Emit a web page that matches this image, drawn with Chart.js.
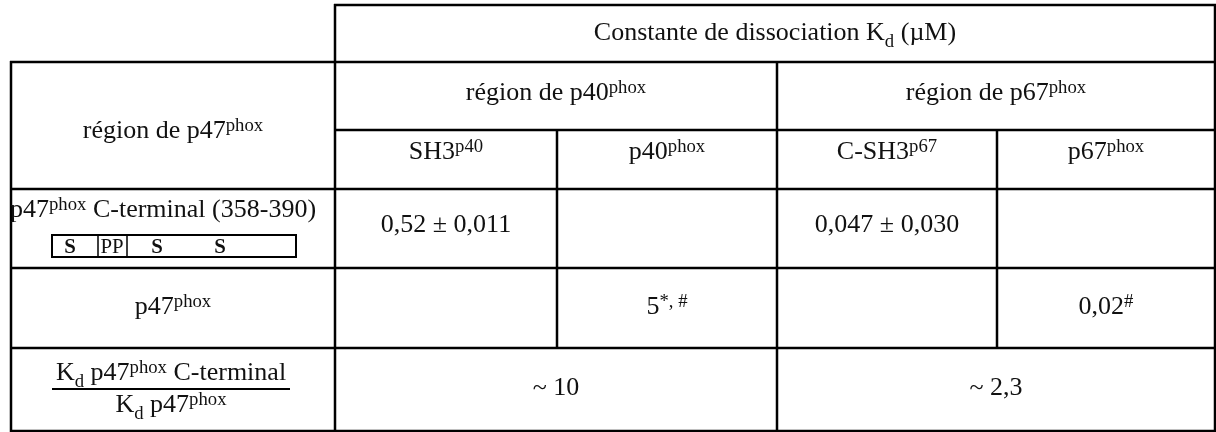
<!doctype html>
<html>

<head>
    <title>Constante de dissociation</title>
    <script src="https://cdn.jsdelivr.net/npm/chart.js"></script>
    <style>
        body { margin: 0; background: #fff; }
    </style>
</head>

<body>

    <canvas id="tableau" width="1216" height="432"></canvas>

    <script>
        // textes du tableau (^{..} = exposant, _{..} = indice)
        var enTete = 'Constante de dissociation K_{d} (µM)';
        var regions = ['région de p40^{phox}', 'région de p67^{phox}'];
        var colonnes = ['SH3^{p40}', 'p40^{phox}', 'C-SH3^{p67}', 'p67^{phox}'];
        var lignes = ['région de p47^{phox}', 'p47^{phox} C-terminal (358-390)', 'p47^{phox}'];
        var kdCterminal = ['0,52 ± 0,011', '', '0,047 ± 0,030', ''];
        var kdEntier = ['', '5^{*, #}', '', '0,02^{#}'];
        var rapports = ['~ 10', '~ 2,3'];
        var fraction = ['K_{d} p47^{phox} C-terminal', 'K_{d} p47^{phox}'];
        var domaines = ['S', 'PP', 'S', 'S'];

        // grille (pixels)
        var bordsX = [11, 335, 557, 777, 997, 1215];
        var bordsY = [5, 62, 130, 189, 268, 348, 431];
        var horizontales = [[0, 1, 5], [1, 0, 5], [2, 1, 5], [3, 0, 5], [4, 0, 5], [5, 0, 5], [6, 0, 5]];
        var verticales = [[0, 1, 6], [1, 0, 6], [2, 2, 5], [3, 1, 6], [4, 2, 5], [5, 0, 6]];
        var lignesBase = [40, 100, 138, 159, 232, 314, 395];
        var boiteX = [52, 98, 127, 296];
        var boiteY = [235, 257];
        var domainesX = [70, 112, 157, 220];
        var fractionX = [52, 290];
        var fractionY = [380, 389, 412];

        var POLICE = '"Liberation Serif", "Times New Roman", serif';
        var ETIRE = 1.04;

        function segment(x1, y1, x2, y2, largeur) {
            return {
                data: [{ x: x1, y: y1 }, { x: x2, y: y2 }],
                showLine: true,
                borderColor: '#000',
                borderWidth: largeur,
                pointRadius: 0,
                clip: false
            };
        }

        var datasets = [];
        horizontales.forEach(function (h) {
            datasets.push(segment(bordsX[h[1]] - 1, bordsY[h[0]], bordsX[h[2]] + 1, bordsY[h[0]], 2.5));
        });
        verticales.forEach(function (v) {
            datasets.push(segment(bordsX[v[0]], bordsY[v[1]] - 1, bordsX[v[0]], bordsY[v[2]] + 1, 2.5));
        });
        // boite S PP S S
        datasets.push(segment(boiteX[0], boiteY[0], boiteX[3], boiteY[0], 2));
        datasets.push(segment(boiteX[0], boiteY[1], boiteX[3], boiteY[1], 2));
        boiteX.forEach(function (x, i) {
            datasets.push(segment(x, boiteY[0] - 1, x, boiteY[1] + 1, i == 0 || i == 3 ? 2 : 1.5));
        });
        // barre de fraction
        datasets.push(segment(fractionX[0], fractionY[1], fractionX[1], fractionY[1], 2));

        function decoupe(texte) {
            var morceaux = [];
            var re = /\^\{([^}]*)\}|_\{([^}]*)\}|([^\^_]+)/g;
            var m;
            while ((m = re.exec(texte)) !== null) {
                if (m[1] != null) morceaux.push({ t: m[1], mode: 'sup' });
                else if (m[2] != null) morceaux.push({ t: m[2], mode: 'sub' });
                else morceaux.push({ t: m[3], mode: 'n' });
            }
            return morceaux;
        }

        function police(mode, taille, gras) {
            var t = mode == 'sup' ? 18 : mode == 'sub' ? 18 : taille;
            return (gras ? 'bold ' : '') + t + 'px ' + POLICE;
        }

        function ecrire(ctx, texte, x, y, align, taille, gras) {
            taille = taille || 25;
            var morceaux = decoupe(texte);
            var largeur = 0;
            morceaux.forEach(function (p) {
                ctx.font = police(p.mode, taille, gras);
                p.w = ctx.measureText(p.t).width;
                largeur += p.w;
            });
            var x0 = align == 'left' ? x : x - largeur * ETIRE / 2;
            ctx.save();
            ctx.translate(x0, 0);
            ctx.scale(ETIRE, 1);
            ctx.fillStyle = '#111';
            ctx.textAlign = 'left';
            ctx.textBaseline = 'alphabetic';
            var cx = 0;
            morceaux.forEach(function (p) {
                ctx.font = police(p.mode, taille, gras);
                var dy = p.mode == 'sup' ? -7 : p.mode == 'sub' ? 7 : 0;
                ctx.fillText(p.t, cx, y + dy);
                cx += p.w;
            });
            ctx.restore();
        }

        var textes = {
            id: 'textes',
            afterDatasetsDraw: function (chart) {
                var ctx = chart.ctx;
                var sx = chart.scales.x, sy = chart.scales.y;
                function milieu(c0, c1) {
                    return sx.getPixelForValue((bordsX[c0] + bordsX[c1]) / 2);
                }
                function base(i) { return sy.getPixelForValue(lignesBase[i]); }

                ecrire(ctx, enTete, milieu(1, 5), base(0), 'center');
                regions.forEach(function (r, i) {
                    ecrire(ctx, r, milieu(1 + 2 * i, 3 + 2 * i), base(1), 'center');
                });
                ecrire(ctx, lignes[0], milieu(0, 1), base(2), 'center');
                colonnes.forEach(function (c, i) {
                    ecrire(ctx, c, milieu(i + 1, i + 2), base(3), 'center');
                });
                ecrire(ctx, lignes[1], sx.getPixelForValue(bordsX[0] - 1), sy.getPixelForValue(217), 'left');
                kdCterminal.forEach(function (v, i) {
                    if (v) ecrire(ctx, v, milieu(i + 1, i + 2), base(4), 'center');
                });
                domaines.forEach(function (d, i) {
                    ecrire(ctx, d, sx.getPixelForValue(domainesX[i]), sy.getPixelForValue(253), 'center', 20, d == 'S');
                });
                ecrire(ctx, lignes[2], milieu(0, 1), base(5), 'center');
                kdEntier.forEach(function (v, i) {
                    if (v) ecrire(ctx, v, milieu(i + 1, i + 2), base(5), 'center');
                });
                var fx = sx.getPixelForValue((fractionX[0] + fractionX[1]) / 2);
                ecrire(ctx, fraction[0], fx, sy.getPixelForValue(fractionY[0]), 'center');
                ecrire(ctx, fraction[1], fx, sy.getPixelForValue(fractionY[2]), 'center');
                rapports.forEach(function (r, i) {
                    ecrire(ctx, r, milieu(1 + 2 * i, 3 + 2 * i), base(6), 'center');
                });
            }
        };

        var tableau = new Chart(document.getElementById('tableau').getContext('2d'), {
            type: 'scatter',
            data: { datasets: datasets },
            options: {
                responsive: false,
                animation: false,
                events: [],
                layout: { padding: 0 },
                plugins: { legend: { display: false }, tooltip: { enabled: false } },
                scales: {
                    x: { display: false, min: 0, max: 1216 },
                    y: { display: false, min: 0, max: 432, reverse: true }
                }
            },
            plugins: [textes]
        });
    </script>
</body>

</html>
